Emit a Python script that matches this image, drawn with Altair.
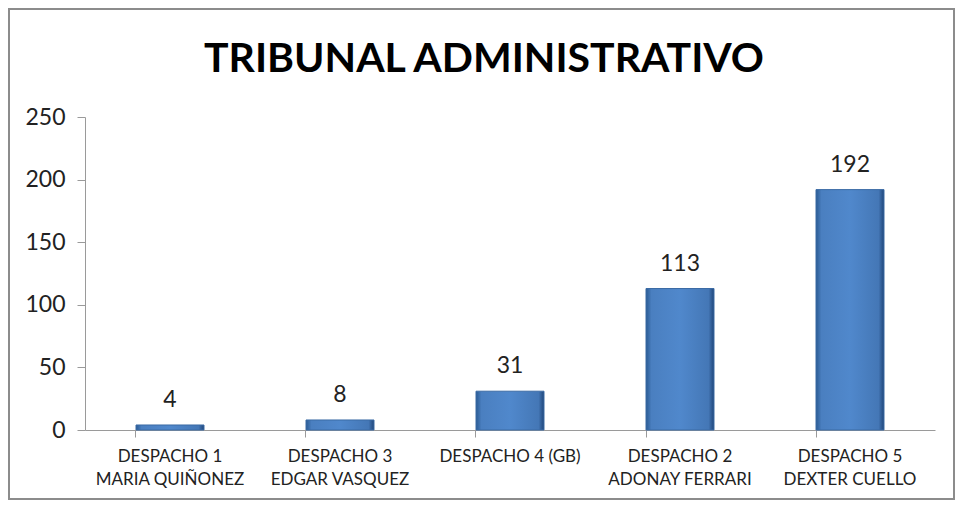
import altair as alt
import pandas as pd

categories = [
    "DESPACHO 1\nMARIA QUIÑONEZ",
    "DESPACHO 3\nEDGAR VASQUEZ",
    "DESPACHO 4 (GB)",
    "DESPACHO 2\nADONAY FERRARI",
    "DESPACHO 5\nDEXTER CUELLO",
]
values = [4, 8, 31, 113, 192]
y_ticks = [0, 50, 100, 150, 200, 250]
title_text = ["TRIBUNAL ADMINISTRATIVO"]

df = pd.DataFrame({"cat": categories, "val": values})

W, H = 850, 313
FONT = "Lato"

x_enc = alt.X(
    "cat:N",
    sort=categories,
    scale=alt.Scale(paddingInner=0.6, paddingOuter=0.3),
    axis=alt.Axis(
        title=None,
        labelAngle=0,
        labelExpr="split(datum.label, '\\n')",
        labelFont=FONT,
        labelFontSize=17,
        labelColor="#222222",
        labelPadding=11,
        labelLineHeight=23,
        tickSize=7,
        tickColor="#9a9a9a",
        domainColor="#9a9a9a",
        bandPosition=0,
        labelBaseline="top",
    ),
)
y_enc = alt.Y(
    "val:Q",
    scale=alt.Scale(domain=[0, 250], nice=False),
    axis=alt.Axis(
        title=None,
        values=y_ticks,
        grid=False,
        labelFont=FONT,
        labelFontSize=23,
        labelColor="#222222",
        labelPadding=12,
        tickSize=8,
        tickColor="#9a9a9a",
        domainColor="#9a9a9a",
    ),
)

gradient = alt.Gradient(
    gradient="linear",
    x1=0, x2=1, y1=0, y2=0,
    stops=[
        alt.GradientStop(offset=0, color="#2a5a93"),
        alt.GradientStop(offset=0.08, color="#4a7fc0"),
        alt.GradientStop(offset=0.5, color="#5088cc"),
        alt.GradientStop(offset=0.92, color="#4477b6"),
        alt.GradientStop(offset=1, color="#20467a"),
    ],
)

bars = alt.Chart(df).mark_bar(fill=gradient, stroke="#3a6aa4", strokeWidth=1).encode(
    x=x_enc, y=y_enc
)

labels = alt.Chart(df).mark_text(
    font=FONT, fontSize=23, color="#222222", baseline="bottom", dy=-13
).encode(x=alt.X("cat:N", sort=categories), y="val:Q", text="val:Q")

frame = alt.Chart(df).mark_rect(fill=None, stroke="#8c8c8c", strokeWidth=2).encode(
    x=alt.value(-76), x2=alt.value(W + 19), y=alt.value(-108), y2=alt.value(H + 69)
)

title = alt.Chart(pd.DataFrame({"t": title_text})).mark_text(
    font=FONT, fontSize=41, fontWeight="bold", color="#000000",
    baseline="alphabetic", align="center"
).encode(x=alt.value(W / 2 - 26), y=alt.value(-45), text="t:N")

chart = (
    alt.layer(frame, bars, labels, title)
    .properties(
        width=W,
        height=H,
        autosize=alt.AutoSizeParams(type="none"),
        padding={"left": 77, "top": 109, "right": 20, "bottom": 70},
        background="white",
    )
    .configure_view(stroke=None)
)

chart.save("out.html", embed_options={"renderer": "svg", "actions": False})
